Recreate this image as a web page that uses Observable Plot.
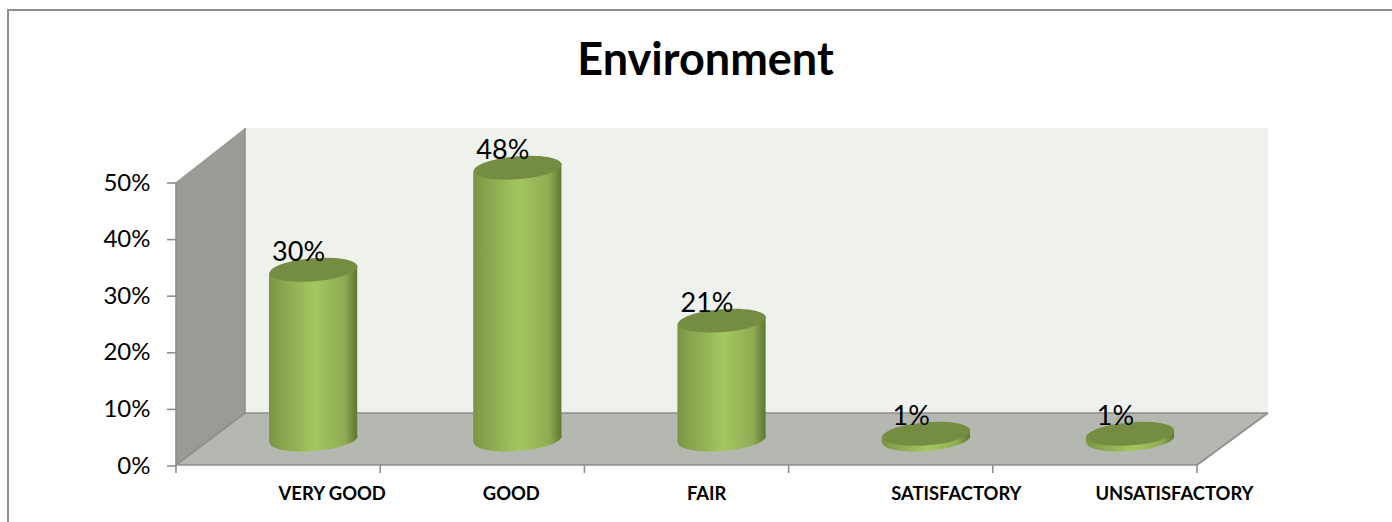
<!DOCTYPE html>
<html><head><meta charset="utf-8">
<script src="https://cdn.jsdelivr.net/npm/d3@7"></script>
<script src="https://cdn.jsdelivr.net/npm/@observablehq/plot@0.6"></script>
<style>
html,body{margin:0;padding:0;background:#fff;overflow:hidden;width:1392px;height:522px}
#wrap{position:relative;width:1392px;height:522px;overflow:hidden}
#border{position:absolute;left:7px;top:9px;width:1400px;height:600px;border:2px solid #8f8f8f;box-sizing:border-box}
#chart{position:absolute;left:0;top:0}
svg{background:transparent!important}
</style></head><body>
<div id="wrap"><div id="border"></div><div id="chart"></div></div>
<script>
const titleText = "Environment";
const categories = ["VERY GOOD","GOOD","FAIR","SATISFACTORY","UNSATISFACTORY"];
const percents = [30,48,21,1,1];
const yTicks = [0,10,20,30,40,50];
const rows = categories.map((c,i)=>({c, v:percents[i]}));

const FONT = "Lato, 'Open Sans', sans-serif";
const depth = {dx:69, dy:-52, top:-54};
const cyl = {dx:35, dy:-26, a:44, b:11.5, tilt:-4.5};
const inset = 58;

// tilted ellipse as a Plot symbol
const t = cyl.tilt*Math.PI/180, K = 0.5523;
const ept = (u,v)=>[u*cyl.a*Math.cos(t)-v*cyl.b*Math.sin(t), u*cyl.a*Math.sin(t)+v*cyl.b*Math.cos(t)];
const ellipse = {draw(ctx){
  const P=(u,v)=>ept(u,v);
  ctx.moveTo(...P(1,0));
  ctx.bezierCurveTo(...P(1,K),...P(K,1),...P(0,1));
  ctx.bezierCurveTo(...P(-K,1),...P(-1,K),...P(-1,0));
  ctx.bezierCurveTo(...P(-1,-K),...P(-K,-1),...P(0,-1));
  ctx.bezierCurveTo(...P(K,-1),...P(1,-K),...P(1,0));
  ctx.closePath();
}};

function defs(){
  const d = d3.create("svg:defs");
  const g = d.append("linearGradient").attr("id","cyl").attr("x1","0").attr("x2","1").attr("y1","0").attr("y2","0");
  [[0,"#7a9642"],[.12,"#86a24d"],[.52,"#a3c75f"],[.86,"#8fab53"],[.95,"#6f8a3b"],[1,"#5d7732"]]
    .forEach(([o,c])=>g.append("stop").attr("offset",o).attr("stop-color",c));
  return d.node();
}

function chrome(index, scales, values, dim){
  const L=dim.marginLeft, R=dim.width-dim.marginRight, y0=scales.y(0), y1=scales.y(yTicks[yTicks.length-1]);
  const g=d3.create("svg:g");
  const poly=(pts,fill)=>g.append("path").attr("d","M"+pts.map(p=>p.join(",")).join("L")+"Z").attr("fill",fill);
  const line=(a,b)=>g.append("line").attr("x1",a[0]).attr("y1",a[1]).attr("x2",b[0]).attr("y2",b[1]).attr("stroke","#8e8e8e").attr("stroke-width",1.6);
  const bx=L+depth.dx, rx=R+depth.dx+2, by=y0+depth.dy, ty=y1+depth.top;
  poly([[bx,ty],[rx,ty],[rx,by],[bx,by]],"#eff2ec");
  poly([[L,y1],[bx,ty],[bx,by],[L,y0]],"#999b94");
  poly([[L,y0],[bx,by],[rx,by],[R,y0]],"#b5b8b1");
  line([bx,by],[rx,by]); line([bx,by],[L,y0]); line([bx,ty],[bx,by]); line([rx,by],[R,y0]);
  line([L,y0],[R,y0]); line([L,y0],[L,y1]);
  const step=(R-L)/categories.length;
  d3.range(categories.length+1).forEach(i=>line([L+i*step,y0],[L+i*step,y0+8]));
  return g.node();
}

function skewed(I,s,v,d,c,next){
  const g=next(I,s,v,d,c);
  const k=Math.tan(t);
  g.querySelectorAll("rect").forEach(r=>{
    const cx=+r.getAttribute("x")+ +r.getAttribute("width")/2;
    r.setAttribute("transform",`matrix(1 ${k} 0 1 0 ${-k*cx})`);
  });
  return g;
}

const plot = Plot.plot({
  width:1392, height:522,
  marginLeft:176, marginRight:195, marginTop:182, marginBottom:57,
  style:{fontFamily:FONT, background:"transparent", overflow:"visible"},
  x:{type:"band", domain:categories, padding:0, round:false, axis:null},
  y:{domain:[0,50], axis:null},
  marks:[
    defs,
    chrome,
    Plot.axisY(yTicks,{anchor:"left", tickSize:9, tickPadding:17, tickFormat:d=>d+"%", label:null,
      stroke:"#8e8e8e", strokeWidth:1.6, fontSize:24, fill:"#000", dy:0.5}),
    Plot.axisX({anchor:"bottom", tickSize:0, tickPadding:21, label:null, textAnchor:"start",
      fontSize:18.4, fontWeight:"bold", fill:"#000", lineAnchor:"top"}),
    Plot.dot(rows,{x:"c", y:()=>0, dx:cyl.dx, dy:cyl.dy, symbol:ellipse, fill:"url(#cyl)", stroke:"none"}),
    Plot.barY(rows,{x:"c", y:"v", dx:cyl.dx, dy:cyl.dy, insetLeft:inset, insetRight:inset, fill:"url(#cyl)", render:skewed}),
    Plot.dot(rows,{x:"c", y:"v", dx:cyl.dx, dy:cyl.dy, symbol:ellipse, fill:"#758d43", stroke:"none"}),
    Plot.text(rows,{x:"c", y:"v", text:d=>d.v+"%", dx:20, dy:-43.5, fontSize:27, fill:"#000", lineAnchor:"middle"}),
    Plot.text([titleText],{frameAnchor:"top", dx:18.5, dy:-122, lineAnchor:"middle", fontSize:45, fontWeight:"bold", fill:"#000"})
  ]
});
document.getElementById("chart").appendChild(plot);
</script>
</body></html>
